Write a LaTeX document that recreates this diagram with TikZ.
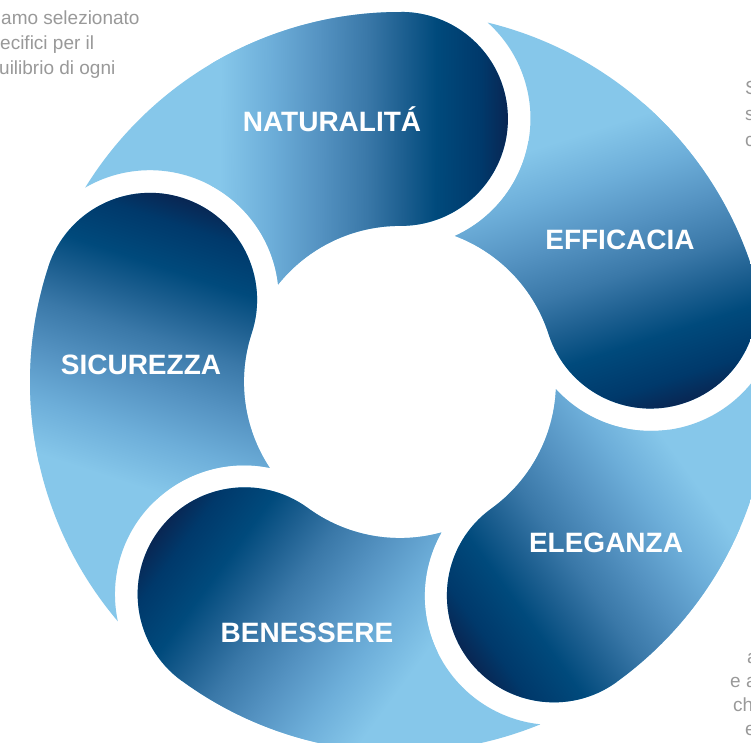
\documentclass[tikz,border=0pt]{standalone}
\usepackage{fontspec}
\setmainfont{Liberation Sans}
\definecolor{c0}{HTML}{0A2450}
\definecolor{c1}{HTML}{00396B}
\definecolor{c2}{HTML}{004A7C}
\definecolor{c3}{HTML}{1D5F90}
\definecolor{c4}{HTML}{3A78A8}
\definecolor{c5}{HTML}{5593C2}
\definecolor{c6}{HTML}{6DAED9}
\definecolor{c7}{HTML}{86C7EA}
\definecolor{txtgray}{HTML}{999999}
\pgfdeclareverticalshading{seggrad}{100bp}{color(0bp)=(c0); color(25bp)=(c0); color(30bp)=(c1); color(37.5bp)=(c2); color(43bp)=(c3); color(49bp)=(c4); color(57bp)=(c5); color(65bp)=(c6); color(73.5bp)=(c7); color(100bp)=(c7)}
\newcommand\drawsegment[1]{%
  \begin{scope}[transform canvas={shift={(400,360)},rotate=#1}]
    \begin{scope}
      \clip (370,0) arc[start angle=0,end angle=58.5,radius=370]
        arc[start angle=30.3,end angle=-83.3,radius=129]
        arc[start angle=51.6,end angle=0,radius=156]
        arc[start angle=180,end angle=360,radius=107] -- cycle;
      \fill[c7] (80,-120) rectangle (390,330);
      \shade[shading=seggrad] (80,-110) rectangle (390,190);
    \end{scope}
  \end{scope}}
\tikzset{
  lbl/.style={anchor=base, text=white, inner sep=0pt, font=\bfseries\fontsize{28}{28}\selectfont},
  gtxt/.style={anchor=base west, text=txtgray, inner sep=0pt, font=\fontsize{19}{19}\selectfont}
}
\begin{document}
\begin{tikzpicture}[x=1pt,y=1pt]
\useasboundingbox (0,0) rectangle (751,742);
\fill[white] (0,0) rectangle (751,742);
% segments: head angles
\drawsegment{89.8}
\drawsegment{161.8}
\drawsegment{233.8}
\drawsegment{305.8}
\drawsegment{17.8}
% labels
\node[lbl] (nat) at (332,610) {NATURALITÁ};
\node[lbl] (eff) at (620,492) {EFFICACIA};
\node[lbl] (sic) at (141,367) {SICUREZZA};
\node[lbl] (ben) at (307,100) {BENESSERE};
\node[lbl] (ele) at (606,190) {ELEGANZA};
% cut-off side texts
\node[gtxt] (tl1) at (1,717) {amo selezionato};
\node[gtxt] (tl2) at (0,692) {ecifici per il};
\node[gtxt] (tl3) at (-1,667) {uilibrio di ogni};
\node[gtxt] (tr1) at (745,647) {S};
\node[gtxt] (tr2) at (745,621) {s};
\node[gtxt] (tr3) at (745,595) {c};
\node[gtxt] (br1) at (747,79) {a};
\node[gtxt] (br2) at (730,55) {e a};
\node[gtxt] (br3) at (733,31) {ch};
\node[gtxt] (br4) at (745,7) {e};
\end{tikzpicture}
\end{document}
